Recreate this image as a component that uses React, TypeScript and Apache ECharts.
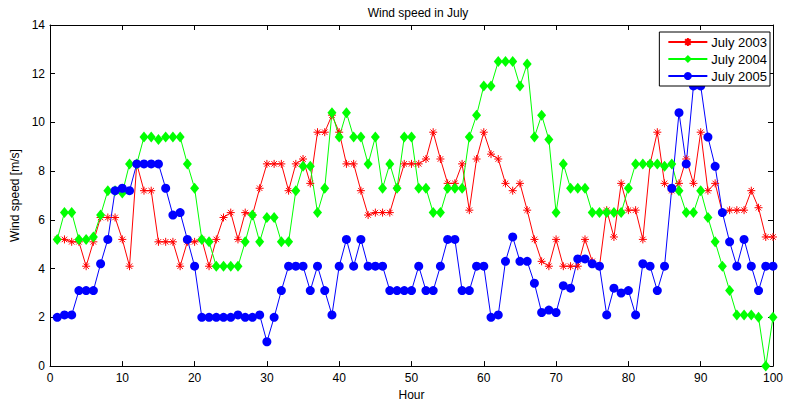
import React, { useEffect, useRef } from "react";
import * as echarts from "echarts";

// Hour of the month (1..100)
const HOURS: number[] = Array.from({ length: 100 }, (_, i) => i + 1);

// Wind speed [m/s], July 2003
const JULY_2003: number[] = [
  5.2, 5.2, 5.1, 5.1, 4.1, 5.1, 6.1, 6.1, 6.1, 5.2,
  4.1, 8.3, 7.2, 7.2, 5.1, 5.1, 5.1, 4.1, 5.1, 5.1,
  5.2, 4.1, 5.2, 6.1, 6.3, 5.2, 6.3, 6.2, 7.3, 8.3,
  8.3, 8.3, 7.2, 8.3, 8.5, 7.5, 9.6, 9.6, 10.3, 9.6,
  8.3, 8.3, 7.2, 6.2, 6.3, 6.3, 6.3, 7.3, 8.3, 8.3,
  8.3, 8.5, 9.6, 8.5, 7.5, 7.5, 8.3, 6.4, 8.5, 9.6,
  8.7, 8.5, 7.5, 7.2, 7.5, 6.4, 5.2, 4.3, 4.1, 5.2,
  4.1, 4.1, 4.1, 5.2, 4.3, 4.1, 6.4, 5.3, 7.5, 6.4,
  6.4, 5.2, 8.3, 9.6, 7.5, 7.2, 7.5, 8.5, 7.5, 9.6,
  7.2, 7.5, 6.3, 6.4, 6.4, 6.4, 7.2, 6.5, 5.3, 5.3,
];

// Wind speed [m/s], July 2004
const JULY_2004: number[] = [
  5.2, 6.3, 6.3, 5.2, 5.2, 5.3, 6.2, 7.2, 7.2, 7.1,
  8.3, 8.3, 9.4, 9.4, 9.3, 9.4, 9.4, 9.4, 8.3, 7.3,
  5.2, 5.1, 4.1, 4.1, 4.1, 4.1, 5.1, 6.2, 5.1, 6.1,
  6.1, 5.1, 5.1, 7.2, 8.2, 8.2, 6.3, 7.3, 10.4, 9.4,
  10.4, 9.4, 9.4, 8.3, 9.4, 7.3, 8.3, 7.3, 9.4, 9.4,
  7.3, 7.3, 6.3, 6.3, 7.3, 7.3, 7.3, 9.4, 10.3, 11.5,
  11.5, 12.5, 12.5, 12.5, 11.5, 12.4, 9.4, 10.3, 9.3, 6.3,
  8.3, 7.3, 7.3, 7.3, 6.3, 6.3, 6.3, 6.3, 6.3, 7.3,
  8.3, 8.3, 8.3, 8.3, 8.2, 8.3, 7.2, 6.3, 6.3, 7.2,
  6.1, 5.1, 4.1, 3.1, 2.1, 2.1, 2.1, 2.0, 0.0, 2.0,
];

// Wind speed [m/s], July 2005
const JULY_2005: number[] = [
  2.0, 2.1, 2.1, 3.1, 3.1, 3.1, 4.2, 5.2, 7.2, 7.3,
  7.2, 8.3, 8.3, 8.3, 8.3, 7.3, 6.2, 6.3, 5.2, 4.1,
  2.0, 2.0, 2.0, 2.0, 2.0, 2.1, 2.0, 2.0, 2.1, 1.0,
  2.0, 3.1, 4.1, 4.1, 4.1, 3.1, 4.1, 3.1, 2.1, 4.1,
  5.2, 4.1, 5.2, 4.1, 4.1, 4.1, 3.1, 3.1, 3.1, 3.1,
  4.1, 3.1, 3.1, 4.1, 5.2, 5.2, 3.1, 3.1, 4.1, 4.1,
  2.0, 2.1, 4.3, 5.3, 4.3, 4.3, 3.4, 2.2, 2.3, 2.2,
  3.3, 3.2, 4.4, 4.4, 4.2, 4.1, 2.1, 3.2, 3.0, 3.1,
  2.1, 4.2, 4.1, 3.1, 4.1, 7.3, 10.4, 8.3, 11.5, 11.5,
  9.4, 8.2, 6.3, 5.1, 4.1, 5.2, 4.1, 3.1, 4.1, 4.1,
];

const SERIES_NAMES = ["July 2003", "July 2004", "July 2005"];

const FONT = "'Liberation Sans', Arial, Helvetica, sans-serif";

// MATLAB-style '*' marker drawn as stroked spokes
const ASTERISK =
  "path://M5,0L5,10M0,5L10,5M1.6,1.6L8.4,8.4M1.6,8.4L8.4,1.6";

const pairs = (vals: number[]) => HOURS.map((h, i) => [h, vals[i]]);

const axisBase = {
  type: "value" as const,
  axisLine: { show: true, onZero: false, lineStyle: { color: "#000", width: 1 } },
  axisTick: { show: true, inside: true, length: 5, lineStyle: { color: "#000" } },
  splitLine: { show: false },
};

export default function App() {
  const ref = useRef<HTMLDivElement>(null);

  useEffect(() => {
    if (!ref.current) return;
    const chart = echarts.init(ref.current, undefined, { renderer: "svg" });

    chart.setOption({
      animation: false,
      backgroundColor: "#fff",
      title: {
        text: "Wind speed in July",
        left: 413,
        top: 2,
        textAlign: "center",
        textStyle: { fontFamily: FONT, fontSize: 12, fontWeight: "normal", color: "#000" },
      },
      grid: { left: 50, right: 10, top: 25, bottom: 38 },
      legend: {
        orient: "vertical",
        right: 16,
        top: 32,
        padding: [3, 3, 3, 8],
        itemGap: 3,
        itemWidth: 39,
        itemHeight: 10,
        backgroundColor: "#fff",
        borderColor: "#000",
        borderWidth: 1,
        borderRadius: 0,
        textStyle: { fontFamily: FONT, fontSize: 13, lineHeight: 14, color: "#000", padding: [0, 0, 0, -1] },
        data: SERIES_NAMES,
      },
      xAxis: [
        {
          ...axisBase,
          min: 0,
          max: 100,
          interval: 10,
          position: "bottom",
          name: "Hour",
          nameLocation: "middle",
          nameGap: 20,
          nameTextStyle: { fontFamily: FONT, fontSize: 12, color: "#000" },
          axisLabel: { fontFamily: FONT, fontSize: 12, color: "#000", margin: 6 },
        },
        {
          ...axisBase,
          min: 0,
          max: 100,
          interval: 10,
          position: "top",
          axisLabel: { show: false },
        },
      ],
      yAxis: [
        {
          ...axisBase,
          min: 0,
          max: 14,
          interval: 2,
          position: "left",
          name: "Wind speed [m/s]",
          nameLocation: "middle",
          nameGap: 23,
          nameTextStyle: { fontFamily: FONT, fontSize: 12, color: "#000" },
          axisLabel: { fontFamily: FONT, fontSize: 12, color: "#000", margin: 5 },
        },
        {
          ...axisBase,
          min: 0,
          max: 14,
          interval: 2,
          position: "right",
          axisLabel: { show: false },
        },
      ],
      series: [
        {
          name: SERIES_NAMES[0],
          type: "line",
          data: pairs(JULY_2003),
          symbol: ASTERISK,
          symbolSize: 8,
          showAllSymbol: true,
          color: "#ff0000",
          lineStyle: { color: "#ff0000", width: 1 },
          itemStyle: { color: "rgba(0,0,0,0)", borderColor: "#ff0000", borderWidth: 1 },
        },
        {
          name: SERIES_NAMES[1],
          type: "line",
          data: pairs(JULY_2004),
          symbol: "diamond",
          symbolSize: [9, 11],
          showAllSymbol: true,
          color: "#00ff00",
          lineStyle: { color: "#00ff00", width: 1 },
          itemStyle: { color: "#00ff00", borderWidth: 0 },
        },
        {
          name: SERIES_NAMES[2],
          type: "line",
          data: pairs(JULY_2005),
          symbol: "circle",
          symbolSize: 9,
          showAllSymbol: true,
          color: "#0000ff",
          lineStyle: { color: "#0000ff", width: 1 },
          itemStyle: { color: "#0000ff", borderWidth: 0 },
        },
      ],
    });

    return () => chart.dispose();
  }, []);

  return (
    <div
      ref={ref}
      style={{ position: "fixed", left: 0, top: 0, width: 786, height: 406 }}
    />
  );
}
